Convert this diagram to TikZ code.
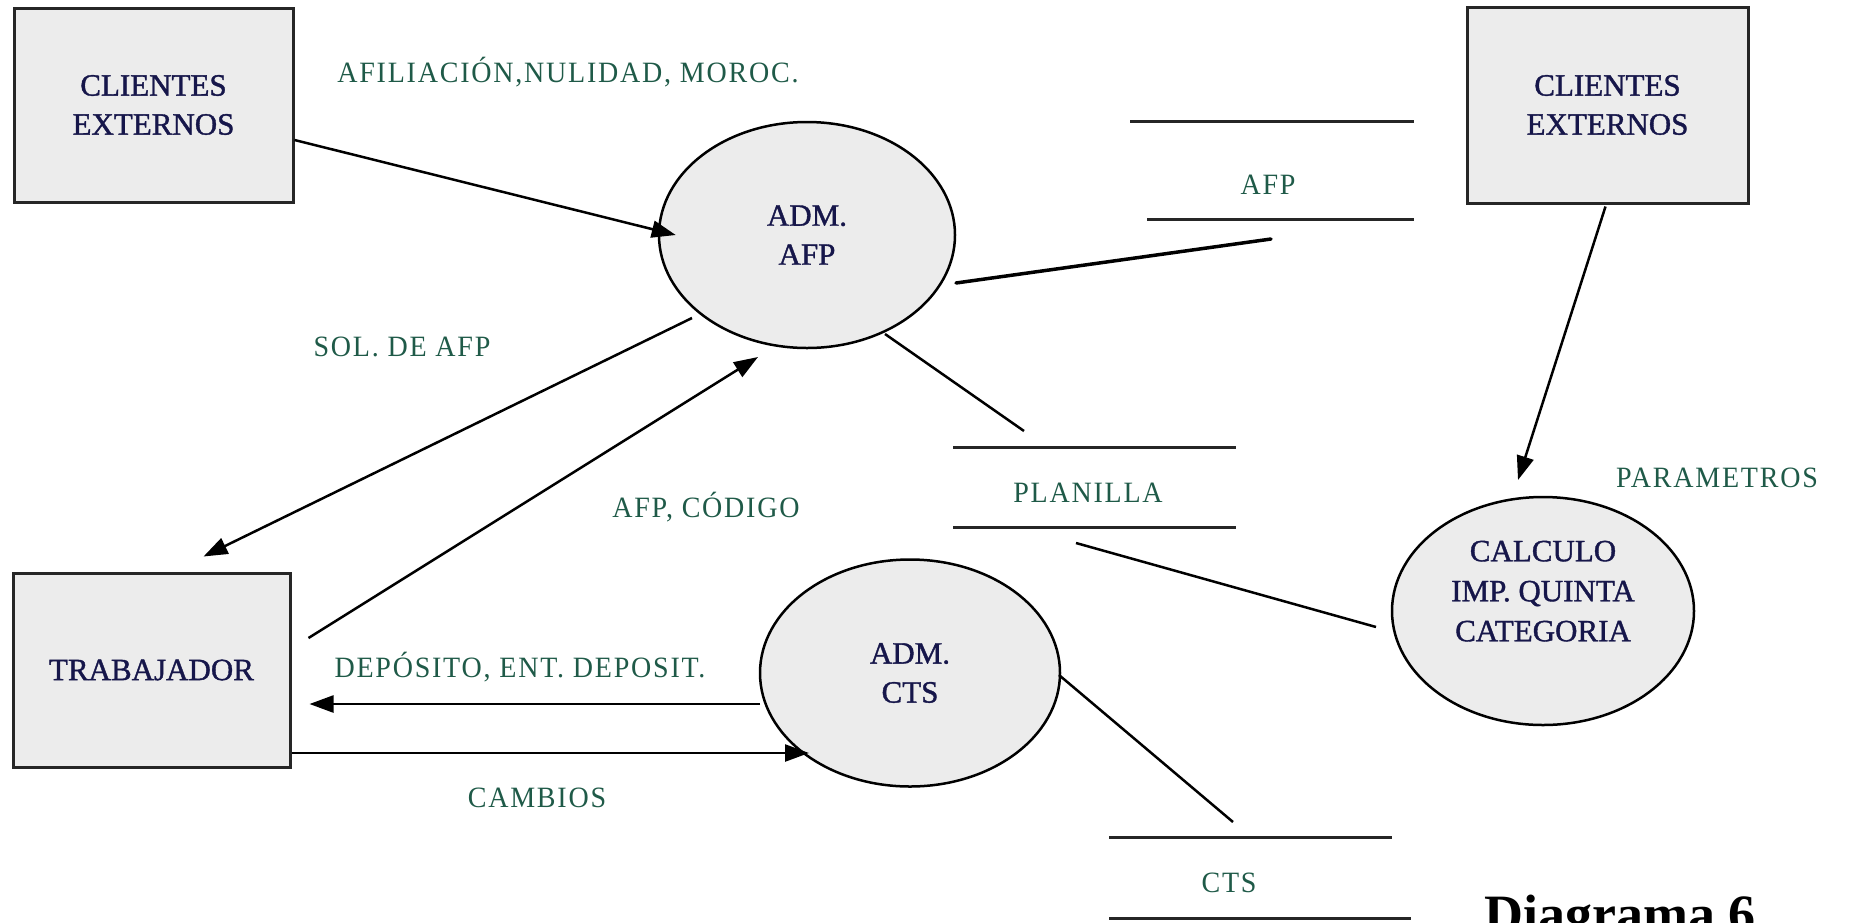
\documentclass[tikz,border=0pt]{standalone}
\usepackage{fontspec}
\setmainfont{Liberation Serif}
\newfontfamily\labfont[LetterSpace=6,FakeStretch=0.95]{Liberation Serif}
\newfontfamily\entfont[FakeBold=1.2]{Liberation Serif}
\usetikzlibrary{arrows.meta,calc,shapes.geometric}
\definecolor{navy}{HTML}{16164A}
\definecolor{flowgreen}{HTML}{1F5A48}
\definecolor{fillgrey}{HTML}{ECECEC}

\tikzset{
  entbox/.style={draw=black!85, line width=3pt, fill=fillgrey, align=center,
    text=navy, font=\entfont\fontsize{31}{39}\selectfont, inner sep=0pt},
  procell/.style={ellipse, draw=black, line width=2.5pt, fill=fillgrey, align=center,
    text=navy, font=\entfont\fontsize{31}{39}\selectfont, inner sep=0pt},
  flowlab/.style={text=flowgreen, font=\labfont\fontsize{29.5}{34}\selectfont, inner sep=0pt},
  flow/.style={line width=2.5pt, -{Triangle[length=24pt,width=17pt]}},
  link/.style={line width=2.5pt},
  storeline/.style={line width=3pt, draw=black!85},
}

\begin{document}
\begin{tikzpicture}[x=1pt,y=-1pt]
\useasboundingbox (0,0) rectangle (1850,922);

% external entities
\node[entbox, minimum width=279pt, minimum height=194pt] (ext1) at (153.5,105) {CLIENTES\\EXTERNOS};
\node[entbox, minimum width=281pt, minimum height=196pt] (ext2) at (1607.5,105) {CLIENTES\\EXTERNOS};
\node[entbox, minimum width=277pt, minimum height=194pt] (trab) at (151.5,670) {TRABAJADOR};

% processes
\node[procell, minimum width=296pt, minimum height=226pt] (afp) at (807,235) {ADM.\\AFP};
\node[procell, minimum width=300pt, minimum height=227pt] (cts) at (910,673) {ADM.\\CTS};
\node[procell, minimum width=302pt, minimum height=228pt, font=\entfont\fontsize{31}{40}\selectfont] (calc) at (1543,611) {CALCULO\\IMP. QUINTA\\CATEGORIA\\\mbox{}};

% data stores
\coordinate (afpTL) at (1130,121); \coordinate (afpTR) at (1414,121);
\coordinate (afpBL) at (1147,219); \coordinate (afpBR) at (1414,219);
\node[flowlab] (afpstore) at (1268,185) {AFP};
\draw[storeline] (afpTL) -- (afpTR);
\draw[storeline] (afpBL) -- (afpBR);

\coordinate (plaTL) at (953,447); \coordinate (plaTR) at (1236,447);
\coordinate (plaBL) at (953,527); \coordinate (plaBR) at (1236,527);
\node[flowlab] (plastore) at (1088,493) {PLANILLA};
\draw[storeline] (plaTL) -- (plaTR);
\draw[storeline] (plaBL) -- (plaBR);

\coordinate (ctsTL) at (1109,837); \coordinate (ctsTR) at (1392,837);
\coordinate (ctsBL) at (1109,918); \coordinate (ctsBR) at (1411,918);
\node[flowlab] (ctsstore) at (1229,883) {CTS};
\draw[storeline] (ctsTL) -- (ctsTR);
\draw[storeline] (ctsBL) -- (ctsBR);

% store connection ends
\coordinate (afpIn) at (1271,239);
\coordinate (plaTop) at (1024,431);
\coordinate (plaBot) at (1076,543);
\coordinate (ctsTop) at (1233,822);

% data flows
\draw[flow] ($(ext1.east)+(0,35)$) -- ($(afp.west)+(18,0)$);
\draw[flow] ($(afp.center)+(-115,83)$) -- ($(trab.north)+(52,-15)$);
\draw[flow] ($(trab.east)+(17,-32)$) -- ($(afp.center)+(-49,122)$);
\draw[line width=3.5pt, line cap=round] ($(afp.center)+(149,48)$) -- (afpIn);
\draw[link] ($(afp.center)+(78,99)$) -- (plaTop);
\draw[flow] ($(ext2.south)+(-2,2)$) -- ($(calc.center)+(-25,-131)$);
\draw[link] (plaBot) -- ($(calc.center)+(-167,16)$);
\draw[flow] ($(cts.center)+(-150,31)$) -- ($(trab.east)+(18,34)$);
\draw[flow] ($(trab.east)+(0,83)$) -- ($(cts.center)+(-101,80)$);
\draw[link] ($(cts.center)+(149,2)$) -- (ctsTop);

% flow labels
\node[flowlab] (lafil) at (568,72) {AFILIACIÓN,NULIDAD, MOROC.};
\node[flowlab] (lsol) at (402,347) {SOL. DE AFP};
\node[flowlab] (lcod) at (706,507) {AFP, CÓDIGO};
\node[flowlab] (ldep) at (520,667) {DEPÓSITO, ENT. DEPOSIT.};
\node[flowlab] (lcam) at (537,798) {CAMBIOS};
\node[flowlab] (lpar) at (1717,478) {PARAMETROS};

% caption, running off the lower edge
\begin{scope}
  \clip (0,0) rectangle (1850,922);
  \node[anchor=base west, inner sep=0pt, font=\bfseries\fontsize{54}{60}\selectfont] (caption) at (1484,932) {Diagrama 6};
\end{scope}
\end{tikzpicture}
\end{document}
